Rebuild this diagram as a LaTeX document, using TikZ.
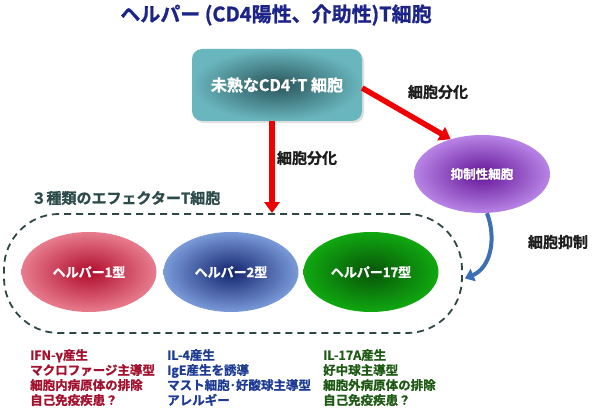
\documentclass[tikz,border=0pt]{standalone}
\usepackage{fontspec}
\setmainfont{Noto Sans CJK JP}[BoldFont={Noto Sans CJK JP Bold},BoldFeatures={FakeBold=1.2}]
\usetikzlibrary{arrows.meta,shapes.geometric,shadows}
\definecolor{titleblue}{HTML}{1C2587}
\definecolor{labelgray}{HTML}{1E1E1E}
\definecolor{groupcol}{HTML}{2D4B4B}
\definecolor{regioncol}{HTML}{2D4646}
\definecolor{arrowred}{HTML}{F00000}
\definecolor{supblue}{HTML}{3E6FB5}
\definecolor{colA}{HTML}{A3112E}
\definecolor{colB}{HTML}{1F3C94}
\definecolor{colC}{HTML}{1E5A14}
\tikzset{
  titletext/.style={font=\bfseries\fontsize{20}{24}\selectfont, text=titleblue},
  immbox/.style={rectangle, rounded corners=10pt, minimum width=170pt, minimum height=72pt,
    shade, inner color={rgb,255:red,40;green,84;blue,90}, outer color={rgb,255:red,106;green,182;blue,190},
    text=white, font=\bfseries\fontsize{16}{18}\selectfont,
    drop shadow={opacity=0.25, shadow xshift=2pt, shadow yshift=-2pt}},
  cell/.style={ellipse, minimum width=135pt, minimum height=80pt, inner sep=0pt,
    text=white, font=\bfseries\fontsize{13}{15}\selectfont},
  region/.style={rectangle, rounded corners=55pt, minimum width=458pt, minimum height=119pt,
    draw=regioncol, line width=1.8pt, dash pattern=on 7pt off 5pt},
  biglabel/.style={font=\bfseries\fontsize{15}{18}\selectfont, text=labelgray},
  redarrow/.style={draw=arrowred, line width=5.5pt, -{Triangle[width=15pt,length=11pt]}},
  listtext/.style={anchor=north west, align=left, inner sep=0pt,
    font=\bfseries\fontsize{12.5}{15}\selectfont}
}
\begin{document}
\begin{tikzpicture}[x=1pt,y=-1pt]
\useasboundingbox (0,0) rectangle (600,411);
\node[titletext] (title) at (276,15) {ヘルパー (CD4陽性、介助性)T細胞};
\node[immbox] (imm) at (277,85) {未熟なCD4\textsuperscript{+}T 細胞};
\node[region] (reg) at (233,273.5) {};
\node[biglabel, text=groupcol, anchor=west] (glab) at (28,198) {３種類のエフェクターT細胞};
\node[cell, shade, inner color={rgb,255:red,176;green,12;blue,44}, outer color={rgb,255:red,232;green,124;blue,142}] (th1) at (89,272) {ヘルパー1型};
\node[cell, shade, inner color={rgb,255:red,20;green,36;blue,110}, outer color={rgb,255:red,122;green,154;blue,216}] (th2) at (231,272) {ヘルパー2型};
\node[cell, shade, inner color={rgb,255:red,8;green,84;blue,8}, outer color={rgb,255:red,16;green,168;blue,16}] (th17) at (371,272) {ヘルパー17型};
\node[ellipse, minimum width=136pt, minimum height=78pt, inner sep=0pt, shade,
  inner color={rgb,255:red,100;green,20;blue,150}, outer color={rgb,255:red,184;green,132;blue,230},
  text=white, font=\bfseries\fontsize{12.5}{14}\selectfont] (sup) at (482,174) {抑制性細胞};
\draw[redarrow] ([xshift=-5pt]imm.south) -- ([xshift=-5pt]imm.south |- reg.north);
\draw[redarrow] ([yshift=-3pt]imm.east) -- (sup.132);
\node[biglabel] (lab1) at (307,158) {細胞分化};
\node[biglabel] (lab2) at (438,92) {細胞分化};
\node[biglabel] (lab3) at (558,242) {細胞抑制};
\draw[draw=supblue, line width=4pt, -{Triangle[width=13pt,length=9pt]}]
  ([xshift=5pt]sup.south) .. controls (497,240) and (490,268) .. ([yshift=-5pt,xshift=2pt]reg.east);
\node[listtext, text=colA] (listA) at (30,349) {IFN-γ産生\\マクロファージ主導型\\細胞内病原体の排除\\自己免疫疾患？};
\node[listtext, text=colB] (listB) at (167,349) {IL-4産生\\IgE産生を誘導\\マスト細胞･好酸球主導型\\アレルギー};
\node[listtext, text=colC] (listC) at (323,349) {IL-17A産生\\好中球主導型\\細胞外病原体の排除\\自己免疫疾患？};
\end{tikzpicture}
\end{document}
